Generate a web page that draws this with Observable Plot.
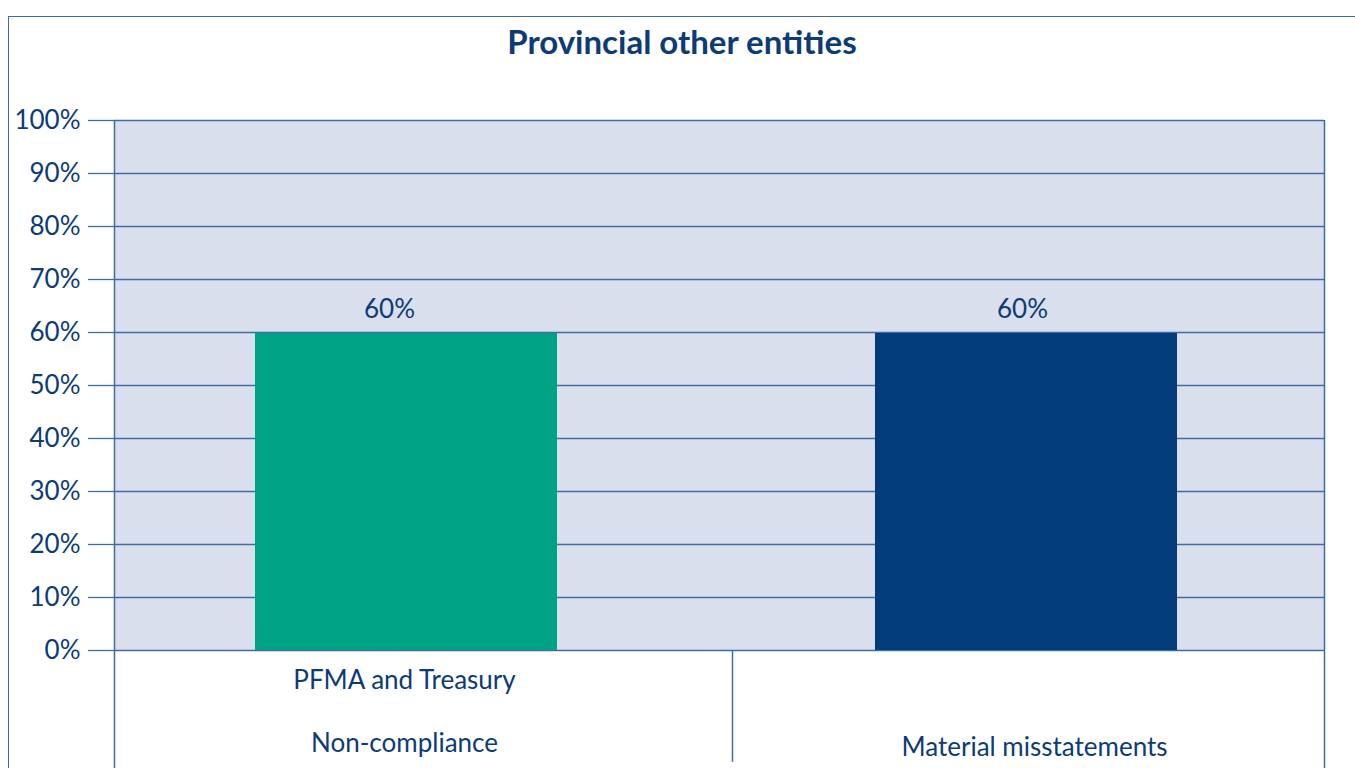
<!DOCTYPE html>
<html>
<head>
<meta charset="utf-8">
<script src="https://cdn.jsdelivr.net/npm/d3@7"></script>
<script src="https://cdn.jsdelivr.net/npm/@observablehq/plot@0.6"></script>
<style>
  html, body { margin: 0; padding: 0; background: #fff; overflow: hidden; }
  #wrap { position: relative; width: 1355px; height: 768px; font-family: Lato, "Open Sans", sans-serif; }
  #border { position: absolute; left: 8px; top: 16px; width: 1400px; height: 800px; border: 1.5px solid #3f6ca2; box-sizing: border-box; }
  #title { position: absolute; left: 0; top: 21px; width: 1364px; text-align: center; font-size: 33px; font-weight: bold; color: #0c3b78; }
  #chart { position: absolute; left: 0; top: 0; }
</style>
</head>
<body>
<div id="wrap">
  <div id="border"></div>
  <div id="title">Provincial other entities</div>
  <div id="chart"></div>
</div>
<script>
const categories = ["PFMA and Treasury Non-compliance", "Material misstatements"];
const values = [0.60, 0.60];
const valueLabels = ["60%", "60%"];
const barColors = ["#00a286", "#033c7a"];
const yTicks = [0, 0.1, 0.2, 0.3, 0.4, 0.5, 0.6, 0.7, 0.8, 0.9, 1.0];

const data = categories.map((c, i) => ({category: c, value: values[i], label: valueLabels[i], color: barColors[i]}));

const lineColor = "#3f6ca2";
const textColor = "#0c3b78";
const fs = 26;

const chart = Plot.plot({
  width: 1355,
  height: 768,
  marginLeft: 114,
  marginRight: 31,
  marginTop: 120,
  marginBottom: 118,
  style: {background: "transparent", fontFamily: "Lato, 'Open Sans', sans-serif", color: textColor},
  x: {type: "band", domain: categories, range: [96, 1336], paddingInner: 0.513, paddingOuter: 0.2565, axis: null},
  y: {domain: [0, 1], axis: null},
  color: {type: "identity"},
  marks: [
    Plot.frame({fill: "#d9dfec", stroke: null}),
    Plot.gridY(yTicks, {stroke: lineColor, strokeOpacity: 1, strokeWidth: 1.3}),
    Plot.axisY({ticks: yTicks, tickFormat: d3.format(".0%"), tickSize: 26, tickPadding: 8, fontSize: fs, stroke: lineColor, strokeWidth: 1.3, fill: textColor, label: null}),
    Plot.barY(data, {x: "category", y: "value", fill: "color", insetTop: 1}),
    Plot.text([data[0]], {x: "category", y: "value", text: "label", dy: -23, dx: -17, fontSize: fs, fill: textColor}),
    Plot.text([data[1]], {x: "category", y: "value", text: "label", dy: -23, dx: -4, fontSize: fs, fill: textColor}),
    Plot.text([categories[0]], {x: d => d, y: d => 0, text: d => "PFMA and Treasury\n\nNon-compliance", dy: 60, dx: -2, lineHeight: 1.21, fontSize: fs, fill: textColor}),
    Plot.text([categories[1]], {x: d => d, y: d => 0, text: d => "Material misstatements", dy: 97, dx: 8, fontSize: fs, fill: textColor}),
    Plot.ruleX([categories[0]], {x: d => d, y1: -0.25, y2: 1, dx: -292, stroke: lineColor, strokeWidth: 1.5}),
    Plot.ruleX([categories[1]], {x: d => d, y1: -0.211, y2: 0, dx: -294, stroke: lineColor, strokeWidth: 1.5}),
    Plot.ruleX([categories[1]], {x: d => d, y1: -0.25, y2: 1, dx: 298, stroke: lineColor, strokeWidth: 1.5})
  ]
});
document.getElementById("chart").appendChild(chart);
</script>
</body>
</html>
